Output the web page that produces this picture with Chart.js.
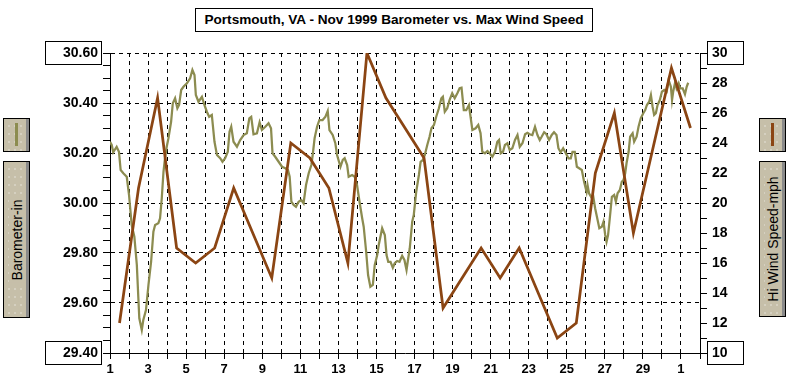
<!DOCTYPE html>
<html>
<head>
<meta charset="utf-8">
<script src="https://cdn.jsdelivr.net/npm/chart.js@4.4.0/dist/chart.umd.min.js"></script>
<style>
  html, body { margin: 0; padding: 0; background: #fff; }
  #wrap { position: relative; width: 788px; height: 381px; overflow: hidden; font-family: 'Liberation Sans', Arial, sans-serif; }
  #chart { position: absolute; left: 0; top: 0; }
  #title {
    position: absolute; left: 195px; top: 8px; width: 398px; height: 24px;
    box-sizing: border-box; border: 1px solid #000; background: #fff;
    font-weight: bold; font-size: 13.6px; line-height: 22px; text-align: center; color: #000;
  }
  .btn {
    position: absolute; box-sizing: border-box; border: 1px solid #000;
    background-color: #c6bfa9;
    background-image: radial-gradient(circle, rgba(255,255,255,0.85) 0.5px, transparent 0.8px);
    background-size: 6px 8px;
    background-position: 2px 3px;
    box-shadow: inset -3px 0 0 #8a8a8a;
  }
  .btn .icon { position: absolute; left: 11px; top: 4px; width: 3px; bottom: 5px; }
  .btn span {
    position: absolute; left: 50%; top: 50%; white-space: nowrap;
    transform: translate(-50%, -50%) rotate(-90deg);
    font-size: 14px; color: #000; background: #c6bfa9; padding: 0 2px;
  }
</style>
</head>
<body>
<div id="wrap">
  <canvas id="chart" width="788" height="381"></canvas>
  <div id="title">Portsmouth, VA - Nov 1999 Barometer vs. Max Wind Speed</div>
  <div class="btn" style="left:3px;top:118px;width:27px;height:34px"><div class="icon" style="background:#8c8c50"></div></div>
  <div class="btn" style="left:3px;top:161px;width:27px;height:157px"><span>Barometer-in</span></div>
  <div class="btn" style="left:759px;top:118px;width:27px;height:34px"><div class="icon" style="background:#8b4513"></div></div>
  <div class="btn" style="left:759px;top:161px;width:27px;height:156px"><span>Hi Wind Speed-mph</span></div>
</div>
<script>
// barometer readings (day of month, inches)
const baroDay = [
  1.00, 1.09, 1.17, 1.35, 1.47, 1.56, 1.70, 1.88, 2.00, 2.14, 2.28, 2.41, 2.49, 2.54, 2.67, 2.75, 2.89,
  3.02, 3.16, 3.28, 3.37, 3.54, 3.63, 3.72, 3.81, 3.89, 3.98, 4.07, 4.21, 4.30, 4.42, 4.54, 4.63, 4.74, 4.86,
  5.04, 5.21, 5.33, 5.44, 5.51, 5.65, 5.83, 5.96, 6.09, 6.21, 6.35, 6.49, 6.62, 6.79, 6.91,
  7.05, 7.19, 7.28, 7.37, 7.49, 7.67, 7.84, 8.02, 8.19, 8.32, 8.42, 8.54, 8.72, 8.86, 8.98,
  9.16, 9.33, 9.46, 9.54, 9.68, 9.86, 10.04, 10.21, 10.35, 10.44, 10.53, 10.65, 10.77, 10.91,
  11.05, 11.17, 11.30, 11.44, 11.58, 11.65, 11.75, 11.88, 12.00, 12.17, 12.32, 12.44, 12.53, 12.70, 12.84, 12.93,
  13.11, 13.23, 13.33, 13.46, 13.54, 13.72, 13.86, 13.98, 14.11, 14.25, 14.33, 14.46, 14.56, 14.68, 14.81, 14.91,
  15.04, 15.12, 15.30, 15.44, 15.53, 15.62, 15.74, 15.86, 15.96, 16.09, 16.21, 16.35, 16.47, 16.58, 16.67, 16.75, 16.88, 16.96,
  17.09, 17.23, 17.32, 17.44, 17.54, 17.67, 17.79, 17.89, 18.02, 18.14, 18.28, 18.41, 18.49, 18.59, 18.72, 18.84, 18.98,
  19.11, 19.25, 19.37, 19.47, 19.59, 19.72, 19.86, 20.04, 20.21, 20.35, 20.47, 20.56, 20.70, 20.83, 20.95,
  21.09, 21.23, 21.35, 21.44, 21.53, 21.65, 21.75, 21.88, 22.00, 22.14, 22.28, 22.41, 22.53, 22.67, 22.81, 22.93,
  23.05, 23.19, 23.33, 23.46, 23.58, 23.68, 23.81, 23.93, 24.07, 24.21, 24.33, 24.46, 24.56, 24.68, 24.81, 24.95,
  25.09, 25.21, 25.30, 25.42, 25.53, 25.65, 25.79, 25.91, 26.04, 26.09, 26.17, 26.32, 26.38, 26.49, 26.62, 26.71, 26.84, 26.93,
  27.02, 27.09, 27.17, 27.26, 27.37, 27.49, 27.58, 27.67, 27.79, 27.89, 27.98, 28.07, 28.14, 28.25, 28.33, 28.46, 28.54, 28.67, 28.77, 28.89,
  29.02, 29.12, 29.21, 29.33, 29.42, 29.51, 29.59, 29.68, 29.77, 29.89, 30.00, 30.12, 30.25, 30.35, 30.47, 30.53, 30.59, 30.70, 30.77, 30.88, 30.96,
  31.09, 31.21, 31.30, 31.38
];
const baroIn = [
  30.245, 30.232, 30.203, 30.225, 30.205, 30.132, 30.119, 30.105, 30.032, 29.912, 29.865, 29.752, 29.619, 29.539, 29.492, 29.532, 29.572,
  29.672, 29.765, 29.885, 29.912, 29.919, 29.939, 30.019, 30.125, 30.179, 30.225, 30.259, 30.325, 30.399, 30.419, 30.379, 30.392, 30.452, 30.465,
  30.479, 30.499, 30.532, 30.512, 30.432, 30.405, 30.425, 30.392, 30.365, 30.345, 30.352, 30.245, 30.192, 30.179, 30.165,
  30.179, 30.205, 30.285, 30.305, 30.245, 30.225, 30.252, 30.272, 30.279, 30.339, 30.345, 30.275, 30.279, 30.323, 30.292,
  30.305, 30.319, 30.299, 30.199, 30.185, 30.165, 30.145, 30.139, 30.132, 30.105, 30.005, 29.992, 29.985, 30.005,
  30.012, 29.999, 30.072, 30.119, 30.152, 30.192, 30.259, 30.305, 30.332, 30.332, 30.345, 30.368, 30.292, 30.272, 30.239, 30.192,
  30.145, 30.172, 30.179, 30.152, 30.105, 30.112, 30.105, 30.072, 30.005, 29.939, 29.905, 29.805, 29.712, 29.665, 29.672, 29.752,
  29.792, 29.832, 29.899, 29.872, 29.792, 29.765, 29.765, 29.741, 29.759, 29.768, 29.765, 29.789, 29.772, 29.732, 29.779, 29.819, 29.925, 29.952,
  30.045, 30.112, 30.165, 30.172, 30.192, 30.232, 30.265, 30.299, 30.312, 30.345, 30.379, 30.419, 30.425, 30.365, 30.379, 30.412, 30.439,
  30.419, 30.439, 30.459, 30.461, 30.372, 30.372, 30.392, 30.292, 30.299, 30.312, 30.279, 30.205, 30.199, 30.208, 30.199,
  30.185, 30.205, 30.245, 30.252, 30.199, 30.205, 30.232, 30.239, 30.212, 30.219, 30.252, 30.272, 30.225, 30.239, 30.275, 30.281,
  30.275, 30.272, 30.305, 30.272, 30.252, 30.265, 30.283, 30.275, 30.252, 30.272, 30.283, 30.272, 30.219, 30.203, 30.219, 30.199,
  30.179, 30.179, 30.205, 30.205, 30.145, 30.139, 30.132, 30.085, 30.045, 30.072, 30.039, 30.019, 30.032, 29.979, 29.932, 29.899, 29.905, 29.925,
  29.872, 29.845, 29.872, 29.939, 30.025, 30.032, 30.005, 30.039, 30.052, 30.085, 30.092, 30.119, 30.159, 30.205, 30.265, 30.279, 30.245, 30.265, 30.305, 30.339,
  30.359, 30.372, 30.392, 30.405, 30.432, 30.385, 30.352, 30.359, 30.392, 30.412, 30.445, 30.452, 30.445, 30.492, 30.465, 30.412, 30.445, 30.485, 30.459, 30.479, 30.459,
  30.459, 30.435, 30.465, 30.481
];

// daily max wind (plotted mid-day)
const windDay = [1.5, 2.5, 3.5, 4.5, 5.5, 6.5, 7.5, 8.5, 9.5, 10.5, 11.5, 12.5, 13.5, 14.5, 15.5, 16.5,
  17.5, 18.5, 19.5, 20.5, 21.5, 22.5, 23.5, 24.5, 25.5, 26.5, 27.5, 28.5, 29.5, 30.5, 31.5];
const windMph = [12, 21, 27, 17, 16, 17, 21, 18, 15, 24, 23, 21, 16, 30, 27, 25,
  23, 13, 15, 17, 15, 17, 14, 11, 12, 22, 26, 18, 23.5, 29, 25];

// axes
const xLabelDays = [1, 3, 5, 7, 9, 11, 13, 15, 17, 19, 21, 23, 25, 27, 29, 31];
const xLabelText = ['1', '3', '5', '7', '9', '11', '13', '15', '17', '19', '21', '23', '25', '27', '29', '1'];
const baroMin = 29.4, baroMax = 30.6;
const windMin = 10, windMax = 30;

const BARO_COLOR = '#8c8c50';
const WIND_COLOR = '#8b4513';

const isMajorBaro = (v) => Math.abs(v * 5 - Math.round(v * 5)) < 1e-6;

const endBoxes = {
  id: 'endBoxes',
  afterDraw(chart) {
    const { ctx, scales } = chart;
    ctx.save();
    ctx.strokeStyle = '#000';
    ctx.lineWidth = 1;
    for (const v of [baroMax, baroMin]) {
      const y = Math.round(scales.y.getPixelForValue(v));
      ctx.strokeRect(45.5, y - 11.5, 56, 23);
    }
    for (const v of [windMax, windMin]) {
      const y = Math.round(scales.y1.getPixelForValue(v));
      ctx.strokeRect(707.5, y - 11.5, 36, 23);
    }
    ctx.restore();
  }
};

const ctx = document.getElementById('chart').getContext('2d');
new Chart(ctx, {
  type: 'scatter',
  data: {
    datasets: [
      {
        label: 'Hi Wind Speed-mph',
        data: windDay.map((d, i) => ({ x: d, y: windMph[i] })),
        yAxisID: 'y1',
        showLine: true,
        borderColor: WIND_COLOR,
        backgroundColor: WIND_COLOR,
        borderWidth: 2.75,
        pointRadius: 0,
        tension: 0,
        order: 0,
      },
      {
        label: 'Barometer-in',
        data: baroDay.map((d, i) => ({ x: d, y: baroIn[i] })),
        yAxisID: 'y',
        showLine: true,
        borderColor: BARO_COLOR,
        backgroundColor: BARO_COLOR,
        borderWidth: 2.25,
        pointRadius: 0,
        tension: 0,
        order: 1,
      },
    ],
  },
  options: {
    responsive: false,
    animation: false,
    layout: { padding: { top: 53, left: 0, right: 0, bottom: 0 } },
    plugins: {
      legend: { display: false },
      tooltip: { enabled: false },
    },
    scales: {
      x: {
        type: 'linear',
        min: 1,
        max: 32,
        afterFit: (s) => { s.height = 28; },
        ticks: {
          stepSize: 1,
          autoSkip: false,
          maxRotation: 0,
          padding: 3,
          color: '#000',
          font: { family: 'Liberation Sans', size: 13, weight: 'bold' },
          callback: (v) => {
            const i = xLabelDays.indexOf(v);
            return i >= 0 ? xLabelText[i] : '';
          },
        },
        grid: { color: '#000', tickColor: '#000', tickLength: 6, lineWidth: 1 },
        border: { color: '#000', width: 1, dash: [4, 4] },
      },
      y: {
        position: 'left',
        min: baroMin,
        max: baroMax,
        afterFit: (s) => { s.width = 110; },
        ticks: {
          stepSize: 0.05,
          maxTicksLimit: 100,
          autoSkip: false,
          padding: 5,
          color: '#000',
          font: { family: 'Liberation Sans', size: 14, weight: 'bold' },
          callback: (v) => (isMajorBaro(v) ? v.toFixed(2) : ''),
        },
        grid: {
          color: (c) => (c.tick && isMajorBaro(c.tick.value) ? '#000' : 'rgba(0,0,0,0)'),
          tickColor: '#000',
          tickLength: 7,
          lineWidth: 1,
        },
        border: { color: '#000', width: 1, dash: [4, 4] },
      },
      y1: {
        position: 'right',
        min: windMin,
        max: windMax,
        afterFit: (s) => { s.width = 88; },
        ticks: {
          stepSize: 1,
          autoSkip: false,
          padding: 5,
          color: '#000',
          font: { family: 'Liberation Sans', size: 14, weight: 'bold' },
          callback: (v) => (v % 2 === 0 ? String(v) : ''),
        },
        grid: { drawOnChartArea: false, tickColor: '#000', tickLength: 7 },
        border: { color: '#000', width: 1 },
      },
    },
  },
  plugins: [endBoxes],
});
</script>
</body>
</html>
